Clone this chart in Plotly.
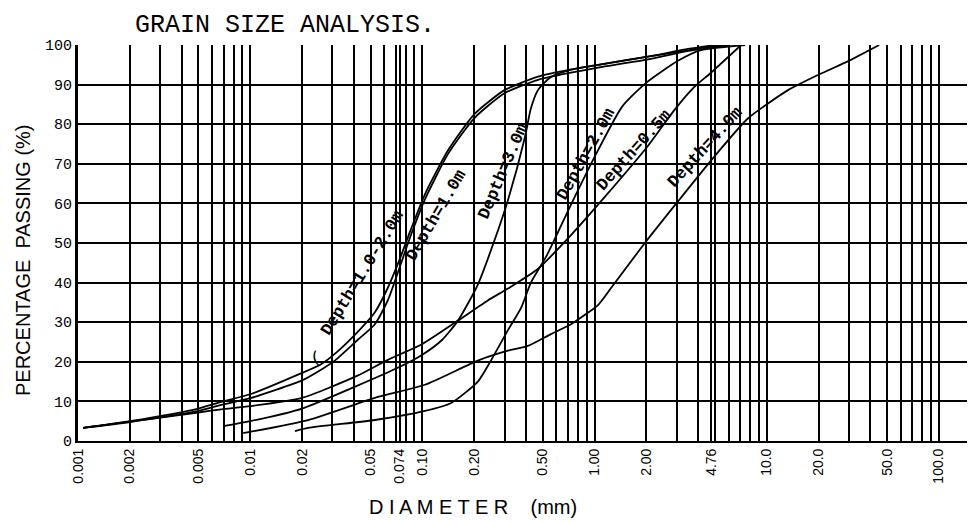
import plotly.graph_objects as go
import math

# ---------------- data ----------------
size_d1020 = [0.00107, 0.002, 0.005, 0.0068, 0.01, 0.02, 0.0258, 0.031, 0.042, 0.053, 0.063, 0.074, 0.085, 0.1035, 0.141, 0.2, 0.3, 0.47, 0.73, 1.05, 2.0, 3.5, 5.0]
pass_d1020 = [3.3, 5.0, 8.2, 9.9, 11.8, 17.2, 19.4, 22.0, 27.5, 32.5, 38.7, 46.0, 53.0, 62.3, 73.4, 82.5, 88.6, 92.0, 93.8, 95.0, 97.0, 99.0, 100.0]

size_d10 = [0.00107, 0.002, 0.005, 0.0068, 0.01, 0.02, 0.0258, 0.031, 0.042, 0.053, 0.063, 0.074, 0.085, 0.1035, 0.141, 0.2, 0.3, 0.47, 0.73, 1.05, 2.0, 3.5, 5.5]
pass_d10 = [3.3, 4.8, 7.6, 9.1, 10.8, 15.3, 18.0, 20.3, 25.5, 29.5, 35.5, 44.0, 51.5, 61.0, 72.5, 81.5, 87.8, 91.2, 93.0, 94.3, 96.3, 98.5, 100.0]

size_d05 = [0.00107, 0.002, 0.005, 0.0068, 0.01, 0.02, 0.042, 0.063, 0.1, 0.161, 0.24, 0.314, 0.47, 0.73, 1.14, 2.04, 2.9, 3.8, 4.74, 7.1]
pass_d05 = [3.3, 4.9, 7.2, 8.0, 8.8, 10.9, 16.5, 20.5, 24.5, 30.4, 35.5, 38.5, 43.5, 52.0, 61.5, 74.5, 83.5, 89.4, 93.0, 100.0]

size_d30 = [0.0071, 0.01, 0.02, 0.042, 0.072, 0.1, 0.13, 0.161, 0.21, 0.264, 0.314, 0.394, 0.427, 0.469, 0.558, 0.73, 1.05, 2.0, 4.0, 6.0]
pass_d30 = [3.8, 5.0, 8.2, 14.0, 18.5, 21.8, 25.5, 30.4, 39.5, 51.0, 60.8, 76.7, 84.0, 88.6, 91.9, 93.8, 95.0, 97.0, 99.0, 100.0]

size_d20 = [0.0182, 0.0217, 0.053, 0.1035, 0.147, 0.21, 0.25, 0.314, 0.375, 0.427, 0.53, 0.73, 1.05, 1.45, 2.0, 3.05, 4.15, 7.5]
pass_d20 = [2.5, 3.3, 5.3, 7.6, 9.6, 15.0, 20.3, 28.0, 33.7, 40.0, 47.0, 59.7, 73.5, 84.5, 90.5, 96.0, 98.7, 100.0]

size_d40 = [0.0091, 0.0217, 0.053, 0.1035, 0.21, 0.314, 0.41, 0.558, 0.73, 1.05, 1.24, 1.96, 3.05, 5.0, 7.8, 13.3, 20.0, 30.0, 45.0]
pass_d40 = [2.0, 5.3, 10.9, 14.2, 20.3, 22.8, 24.0, 27.0, 29.5, 34.4, 38.5, 50.0, 60.5, 72.0, 81.5, 88.6, 92.5, 96.0, 100.0]

series_names = ["Depth=1.0-2.0m", "Depth=1.0m", "Depth=3.0m", "Depth=2.0m", "Depth=0.5m", "Depth=4.0m"]
series_sizes = [size_d1020, size_d10, size_d30, size_d20, size_d05, size_d40]
series_pass = [pass_d1020, pass_d10, pass_d30, pass_d20, pass_d05, pass_d40]

# label anchor (diameter mm, percent passing) and angle
label_size = [0.0452, 0.12, 0.294, 0.891, 1.69, 4.38]
label_pass = [42.5, 57.0, 68.1, 72.4, 73.4, 74.2]
label_angle = [-58.5, -59.6, -66.7, -61.0, -48.0, -47.6]

tick_vals = [0.001, 0.002, 0.005, 0.01, 0.02, 0.05, 0.074, 0.1, 0.2, 0.5, 1, 2, 4.76, 10, 20, 50, 100]
tick_text = ["0.001", "0.002", "0.005", "0.01", "0.02", "0.05", "0.074", "0.10", "0.20", "0.50", "1.00", "2.00", "4.76", "10.0", "20.0", "50.0", "100.0"]

grid_mult = [1, 2, 3, 4, 5, 6, 7, 8, 9]
grid_decades = [-3, -2, -1, 0, 1, 2]
grid_extra = [0.074, 4.76]

y_ticks = [0, 10, 20, 30, 40, 50, 60, 70, 80, 90, 100]
y_text = ["0", "10", "20", "30", "40", "50", "60", "70", "80", "90", "100"]

# ---------------- figure ----------------
grid_vals = sorted(set(round(m * 10 ** d, 6) for d in grid_decades for m in grid_mult) | set(grid_extra))
label_map = {round(v, 6): t for v, t in zip(tick_vals, tick_text)}
all_text = [label_map.get(round(v, 6), "") for v in grid_vals]

fig = go.Figure()
for name, xs, ys in zip(series_names, series_sizes, series_pass):
    fig.add_trace(go.Scatter(x=xs, y=ys, mode="lines", name=name,
                             line=dict(color="black", width=1.8, shape="spline", smoothing=0.6),
                             showlegend=False, hoverinfo="skip"))

mono = "Liberation Mono, Courier New, monospace"
sans = "Liberation Sans, Arial, sans-serif"
anns = []
for name, sx, py, ang in zip(series_names, label_size, label_pass, label_angle):
    anns.append(dict(x=math.log10(sx), y=py, xref="x", yref="y", text="<b>" + name + "</b>",
                     textangle=ang, showarrow=False, xanchor="center", yanchor="middle",
                     font=dict(family=mono, size=17, color="black")))
# small bracket linking the first label to its curve
anns.append(dict(x=math.log10(0.0241), y=20.8, xref="x", yref="y", text="(", textangle=-15,
                 showarrow=False, font=dict(family=mono, size=17, color="black")))
anns += [
    dict(text="GRAIN SIZE ANALYSIS.", xref="paper", yref="paper", x=0.229, y=1.0505,
         xanchor="center", yanchor="middle", showarrow=False,
         font=dict(family=mono, size=25, color="black")),
    dict(text="PERCENTAGE  PASSING (%)", xref="paper", yref="paper", x=-0.0608, y=0.457,
         xanchor="center", yanchor="middle", textangle=-90, showarrow=False,
         font=dict(family=sans, size=20, color="black")),
    dict(text="D I A M E T E R &nbsp;&nbsp;&nbsp;(mm)", xref="paper", yref="paper", x=0.4365, y=-0.166,
         xanchor="center", yanchor="middle", showarrow=False,
         font=dict(family=sans, size=20, color="black")),
]

fig.update_layout(
    width=975, height=522,
    margin=dict(l=70, r=0, t=37, b=89),
    paper_bgcolor="white", plot_bgcolor="white",
    xaxis=dict(type="log", range=[-3, 2.256], tickmode="array", tickvals=grid_vals, ticktext=all_text,
               tickangle=-90, showgrid=True, gridcolor="black", gridwidth=2,
               showline=True, linecolor="black", linewidth=2, ticks="", zeroline=False,
               tickfont=dict(family="Liberation Sans Narrow, Liberation Sans, sans-serif", size=14, color="black")),
    yaxis=dict(range=[0, 100], tickmode="array", tickvals=y_ticks, ticktext=y_text,
               showgrid=True, gridcolor="black", gridwidth=1.5,
               showline=True, linecolor="black", linewidth=3, ticks="", zeroline=False,
               tickfont=dict(family=mono, size=15, color="black")),
    annotations=anns,
)

fig.write_html("out.html")
